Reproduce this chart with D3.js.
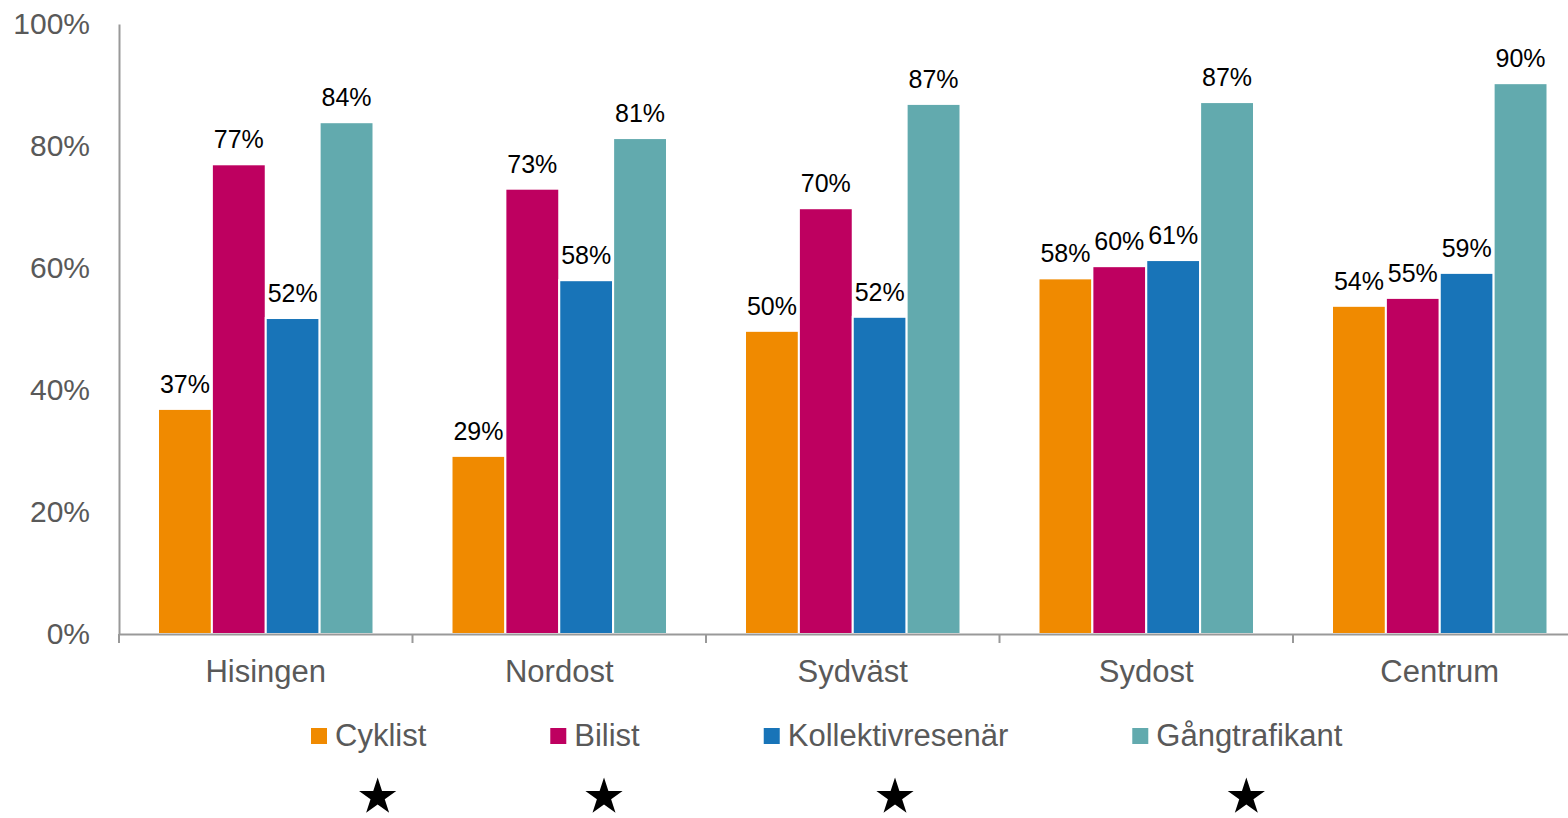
<!DOCTYPE html>
<html>
<head>
<meta charset="utf-8">
<script src="https://cdn.jsdelivr.net/npm/d3@7"></script>
<style>
  body { margin: 0; background: #fff; }
  text { font-family: "Liberation Sans", Arial, sans-serif; }
</style>
</head>
<body>
<div id="chart"></div>
<script>
// data
const areas = ["Hisingen", "Nordost", "Sydväst", "Sydost", "Centrum"];
const series = ["Cyklist", "Bilist", "Kollektivresenär", "Gångtrafikant"];
const cyklist = [0.369, 0.292, 0.497, 0.583, 0.538];
const bilist = [0.770, 0.730, 0.698, 0.603, 0.551];
const kollektiv = [0.518, 0.580, 0.520, 0.613, 0.592];
const gang = [0.839, 0.813, 0.869, 0.872, 0.903];
const yTicks = [0, 0.2, 0.4, 0.6, 0.8, 1];

const colors = ["#F08A00", "#BE0060", "#1874B8", "#62AAAE"];
const values = [cyklist, bilist, kollektiv, gang];

const W = 1568, H = 818;
const margin = {top: 24, left: 119, bottom: 184};
const plotH = H - margin.top - margin.bottom;
const groupW = 293.5;

const svg = d3.select("#chart").append("svg")
    .attr("width", W)
    .attr("height", H);

// scales
const x = d3.scaleBand()
    .domain(areas)
    .range([margin.left, margin.left + groupW * areas.length])
    .padding(0);

const xi = d3.scaleBand()
    .domain(series)
    .range([39, groupW - 39])
    .padding(0);

const y = d3.scaleLinear()
    .domain([0, 1])
    .range([margin.top + plotH, margin.top]);

const fmt = d3.format(".0%");

// bars
const rows = areas.map((a, i) => series.map((s, j) => ({area: a, key: s, idx: j, v: values[j][i]})));

const groups = svg.append("g").selectAll("g")
    .data(rows)
    .enter().append("g")
    .attr("transform", (d, i) => "translate(" + x(areas[i]) + ",0)");

groups.selectAll("rect")
    .data(d => d)
    .enter().append("rect")
    .attr("x", d => xi(d.key))
    .attr("y", d => y(d.v))
    .attr("width", xi.bandwidth())
    .attr("height", d => y(0) - y(d.v))
    .attr("fill", d => colors[d.idx])
    .attr("stroke", "#fff")
    .attr("stroke-width", 2);

groups.selectAll("text")
    .data(d => d)
    .enter().append("text")
    .attr("x", d => xi(d.key) + xi.bandwidth() / 2)
    .attr("y", d => y(d.v) - 16)
    .attr("text-anchor", "middle")
    .style("font-size", "25px")
    .attr("fill", "#000")
    .text(d => fmt(Math.round(d.v * 100) / 100));

// y axis
const yAxis = svg.append("g")
    .attr("transform", "translate(" + margin.left + ",0)")
    .call(d3.axisLeft(y).tickValues(yTicks).tickFormat(fmt).tickSize(0).tickPadding(29));
yAxis.select(".domain").attr("stroke", "#999").attr("stroke-width", 2);
yAxis.selectAll("text").style("font-size", "30px").attr("fill", "#595959");

// x axis
const xAxis = svg.append("g")
    .attr("transform", "translate(0," + y(0) + ")")
    .call(d3.axisBottom(x).tickSize(0).tickPadding(26));
xAxis.select(".domain").attr("stroke", "#999").attr("stroke-width", 2);
xAxis.selectAll("text").style("font-size", "31px").attr("fill", "#595959");

// boundary ticks between groups
xAxis.selectAll(".bound")
    .data(areas)
    .enter().append("line")
    .attr("class", "bound")
    .attr("x1", d => x(d)).attr("x2", d => x(d))
    .attr("y1", 0).attr("y2", 9)
    .attr("stroke", "#999")
    .attr("stroke-width", 2);

// legend
const legend = svg.append("g").attr("transform", "translate(311,728)");
let lx = 0;
const legendCenters = [];
series.forEach((s, j) => {
    const g = legend.append("g").attr("transform", "translate(" + lx + ",0)");
    g.append("rect")
        .attr("width", 16).attr("height", 16)
        .attr("fill", colors[j]);
    const t = g.append("text")
        .attr("x", 24)
        .attr("y", 18)
        .style("font-size", "31px")
        .attr("fill", "#595959")
        .text(s);
    const tw = t.node().getComputedTextLength();
    legendCenters.push(311 + lx + 24 + tw / 2);
    lx += 24 + tw + 124;
});

// stars under legend entries
const star = d3.symbol().type(d3.symbolStar).size(430);
svg.append("g").selectAll("path")
    .data(legendCenters)
    .enter().append("path")
    .attr("transform", d => "translate(" + (d - 3) + ",797)")
    .attr("d", star)
    .attr("fill", "#000");
</script>
</body>
</html>
